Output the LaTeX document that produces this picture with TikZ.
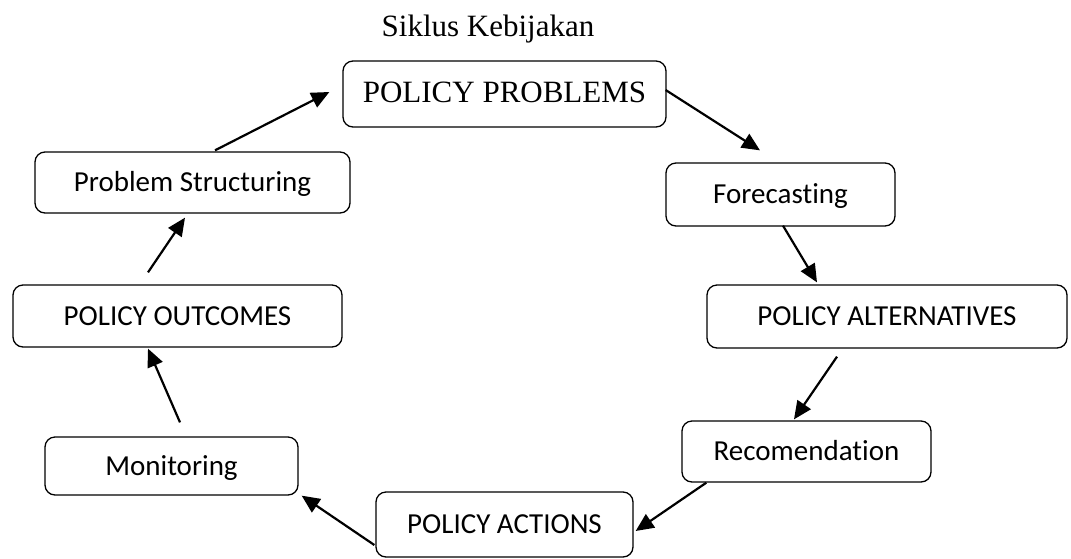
\documentclass[tikz,border=0pt]{standalone}
\usepackage{fontspec}
\setmainfont{Liberation Serif}
\newfontfamily\calfont[Ligatures=NoCommon]{Carlito}
\usetikzlibrary{arrows.meta}
\begin{document}
\begin{tikzpicture}[x=1pt,y=-1pt,
  stage/.style={draw, line width=1.3pt, rounded corners=10pt, inner sep=0pt,
    text height=18.7pt, text depth=0pt,
    font=\calfont\fontsize{29}{34}\selectfont},
  serifstage/.style={stage, text height=20pt, text depth=4pt,
    font=\fontsize{31}{36}\selectfont},
  flow/.style={line width=2.2pt, -{Triangle[length=18pt,width=16pt]}}]
\useasboundingbox (0,0) rectangle (1071,558);

% title
\node[anchor=base, font=\fontsize{31}{36}\selectfont] (title) at (488,36) {Siklus Kebijakan};

% stages of the cycle
\node[serifstage, minimum width=323pt, minimum height=66pt] (pp) at (504.5,94) {POLICY PROBLEMS};
\node[stage, minimum width=229pt, minimum height=63pt] (fc) at (780.5,194.5) {Forecasting};
\node[stage, minimum width=360pt, minimum height=63pt] (pa) at (887,316.5) {POLICY ALTERNATIVES};
\node[stage, minimum width=249pt, minimum height=61pt] (rc) at (806.5,451.5) {Recomendation};
\node[stage, minimum width=257pt, minimum height=65pt] (pac) at (504.5,524.5) {POLICY ACTIONS};
\node[stage, minimum width=253pt, minimum height=58pt] (mo) at (171.5,466) {Monitoring};
\node[stage, minimum width=329pt, minimum height=62pt] (po) at (177.5,316) {POLICY OUTCOMES};
\node[stage, minimum width=315pt, minimum height=61pt] (ps) at (192.5,182.5) {Problem Structuring};

% arrows around the cycle
\draw[flow] ([shift={(-1,-4)}]pp.east) -- ([shift={(-20.5,-12)}]fc.north);
\draw[flow] ([shift={(2.5,-1)}]fc.south) -- ([shift={(-70,-2)}]pa.north);
\draw[flow] ([shift={(-50,8)}]pa.south) -- ([shift={(-12.5,-1)}]rc.north);
\draw[flow] ([shift={(25,0)}]rc.south west) -- ([shift={(2,6.5)}]pac.east);
\draw[flow] ([shift={(-1,20.5)}]pac.west) -- ([shift={(3,0)}]mo.south east);
\draw[flow] ([shift={(8.5,-14)}]mo.north) -- ([shift={(-29.5,1)}]po.south);
\draw[flow] ([shift={(-29.5,-12)}]po.north) -- ([shift={(-7.5,4)}]ps.south);
\draw[flow] ([shift={(22.5,-1)}]ps.north) -- ([shift={(-13,-2)}]pp.west);
\end{tikzpicture}
\end{document}
